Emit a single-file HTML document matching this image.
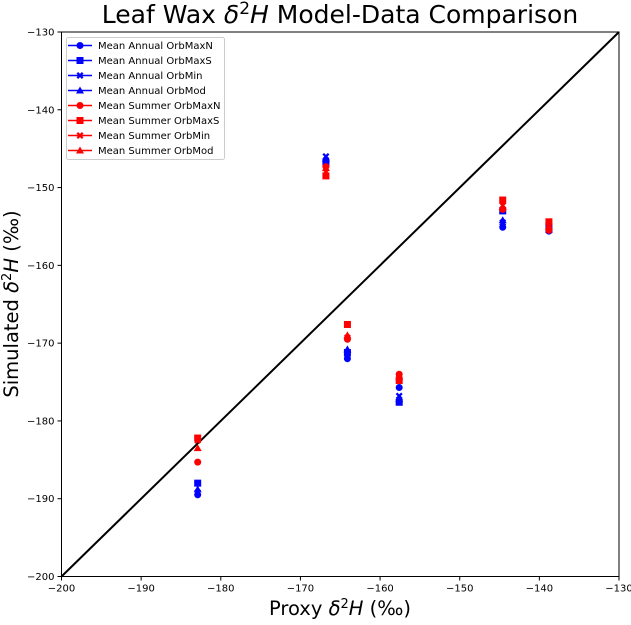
<!DOCTYPE html>
<html><head><meta charset="utf-8"><style>
body{margin:0;background:#fff;font-family:"Liberation Sans","DejaVu Sans",sans-serif}
svg text{font-family:"DejaVu Sans","Liberation Sans",sans-serif}
</style></head><body>
<svg id="chart" width="631" height="620" xmlns="http://www.w3.org/2000/svg">
<g id="g"></g>
</svg>
<script>
const sites = [-182.9, -166.8, -164.1, -157.6, -144.6, -138.8];
const seriesNames = ["Mean Annual OrbMaxN","Mean Annual OrbMaxS","Mean Annual OrbMin","Mean Annual OrbMod","Mean Summer OrbMaxN","Mean Summer OrbMaxS","Mean Summer OrbMin","Mean Summer OrbMod"];
const annMaxN = [-189.5, -146.5, -172.0, -175.7, -155.1, -155.6];
const annMaxS = [-188.0, -146.8, -171.2, -177.6, -153.0, -155.0];
const annMin  = [-189.2, -146.0, -171.5, -176.8, -154.5, -155.2];
const annMod  = [-188.8, -146.3, -170.8, -177.2, -154.2, -155.4];
const sumMaxN = [-185.3, -147.3, -169.5, -174.0, -152.8, -155.5];
const sumMaxS = [-182.2, -148.5, -167.6, -174.8, -151.6, -154.4];
const sumMin  = [-182.5, -148.0, -169.3, -174.5, -152.3, -154.8];
const sumMod  = [-183.5, -147.5, -169.0, -174.3, -152.5, -155.0];
const xTicks = [-200,-190,-180,-170,-160,-150,-140,-130];
const yTicks = [-200,-190,-180,-170,-160,-150,-140,-130];

const NS="http://www.w3.org/2000/svg";
const g=document.getElementById('g');
const X0=61.5,X1=619,Y0=576.5,Y1=32;
const xs=v=>X0+(v+200)/70*(X1-X0);
const ys=v=>Y0-(v+200)/70*(Y0-Y1);
function mk(tag,attrs,parent){const e=document.createElementNS(NS,tag);for(const k in attrs)e.setAttribute(k,attrs[k]);(parent||g).appendChild(e);return e;}

const one=mk('line',{x1:xs(-200),y1:ys(-200),x2:xs(-130),y2:ys(-130),stroke:'#000','stroke-width':2});



const data=[annMaxN,annMaxS,annMin,annMod,sumMaxN,sumMaxS,sumMin,sumMod];
const shapes=['o','s','x','^','o','s','x','^'];
const colors=['#0000ff','#0000ff','#0000ff','#0000ff','#ff0000','#ff0000','#ff0000','#ff0000'];
function marker(shape,cx,cy,color,parent){
  if(shape==='o')return mk('circle',{cx,cy,r:3.5,fill:color},parent);
  if(shape==='s')return mk('rect',{x:cx-3.5,y:cy-3.5,width:7,height:7,fill:color},parent);
  if(shape==='^')return mk('polygon',{points:`${cx},${cy-4} ${cx+4},${cy+3} ${cx-4},${cy+3}`,fill:color},parent);
  const d=3.5,w=1.6;
  return mk('path',{d:`M${cx-d} ${cy-d+w}L${cx-d+w} ${cy-d}L${cx} ${cy-w}L${cx+d-w} ${cy-d}L${cx+d} ${cy-d+w}L${cx+w} ${cy}L${cx+d} ${cy+d-w}L${cx+d-w} ${cy+d}L${cx} ${cy+w}L${cx-d+w} ${cy+d}L${cx-d} ${cy+d-w}L${cx-w} ${cy}Z`,fill:color},parent);
}
data.forEach((arr,si)=>{
  const sg=mk('g',{});
  
  
  arr.forEach((v,i)=>{
    const m=marker(shapes[si],xs(sites[i]),ys(v),colors[si],sg);
    
    
  });
});

const frame=mk('rect',{x:X0,y:Y1,width:X1-X0,height:Y0-Y1,fill:'none',stroke:'#000','stroke-width':1});



xTicks.forEach(t=>{
  mk('line',{x1:xs(t),x2:xs(t),y1:Y0,y2:Y0+4,stroke:'#000'});
  const tx=mk('text',{x:xs(t),y:Y0+15,'text-anchor':'middle','font-size':10});
  tx.textContent=String(t).replace('-','\u2212');
  
  
});
yTicks.forEach(t=>{
  mk('line',{x1:X0-4,x2:X0,y1:ys(t),y2:ys(t),stroke:'#000'});
  const tx=mk('text',{x:X0-7,y:ys(t)+3.5,'text-anchor':'end','font-size':10});
  tx.textContent=String(t).replace('-','\u2212');
  
  
});

const lg=mk('g',{});


mk('rect',{x:66.5,y:37.5,width:158,height:122,rx:2,fill:'#fff',stroke:'#ccc'},lg);
seriesNames.forEach((n,i)=>{
  const y=45.5+i*15;
  const eg=mk('g',{},lg);
  
  
  mk('line',{x1:68,x2:92,y1:y,y2:y,stroke:colors[i],'stroke-width':1.5},eg);
  marker(shapes[i],80,y,colors[i],eg);
  const t=mk('text',{x:98,y:y+3.5,'font-size':10},eg);
  t.textContent=n;
});
</script>
<svg width="631" height="620" style="position:absolute;left:0;top:0" xmlns="http://www.w3.org/2000/svg">
<text x="340" y="23" text-anchor="middle" font-size="25" font-family="DejaVu Sans, Liberation Sans, sans-serif">Leaf Wax <tspan font-style="italic">δ</tspan><tspan font-size="17" dy="-9">2</tspan><tspan font-style="italic" dy="9">H</tspan> Model-Data Comparison</text>
<text x="340" y="615" text-anchor="middle" font-size="19.5" font-family="DejaVu Sans, Liberation Sans, sans-serif">Proxy <tspan font-style="italic">δ</tspan><tspan font-size="13" dy="-7">2</tspan><tspan font-style="italic" dy="7">H</tspan> (‰)</text>
<text transform="translate(18,304) rotate(-90)" text-anchor="middle" font-size="19.5" font-family="DejaVu Sans, Liberation Sans, sans-serif">Simulated <tspan font-style="italic">δ</tspan><tspan font-size="13" dy="-7">2</tspan><tspan font-style="italic" dy="7">H</tspan> (‰)</text>
</svg>
</body></html>
